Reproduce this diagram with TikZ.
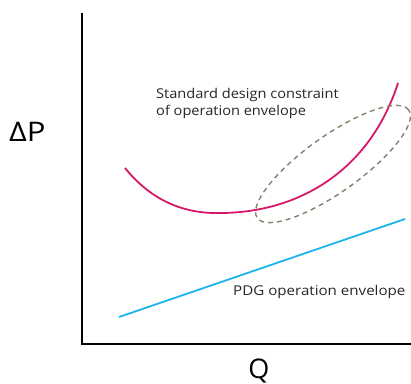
\documentclass[tikz,border=0pt]{standalone}
\usepackage{fontspec}
\setmainfont{Open Sans}
\definecolor{curvered}{HTML}{D6186A}
\definecolor{lineblue}{HTML}{1CB4EC}
\definecolor{envgrey}{HTML}{8A7E6C}
\begin{document}
\begin{tikzpicture}[x=1pt,y=-1pt,
  axis/.style={line width=2pt,black},
  label/.style={align=left,anchor=north west,inner sep=0pt,text=black!85},
  big/.style={font=\fontsize{27}{32}\selectfont,inner sep=0pt}]
\useasboundingbox (0,0) rectangle (411,383);
\coordinate (top) at (82,13);
\coordinate (origin) at (82,344);
\coordinate (right) at (411,344);
\draw[axis] (top) -- (origin) -- (right);
\draw[curvered,line width=1.8pt] (125,168) .. controls (155,205) and (190,214) .. (222,213) .. controls (300,212) and (370,170) .. (398,83);
\draw[lineblue,line width=1.8pt] (119,317) -- (405,219);
\draw[envgrey,line width=1.4pt,dash pattern=on 5pt off 4pt,rotate around={35.5:(333,164)}] (333,164) ellipse (93pt and 28pt);
\node[label,font=\fontsize{13.5}{17}\selectfont] (std) at (156,88) {\scalebox{1.08}[1]{Standard design constraint}\\\scalebox{1.08}[1]{of operation envelope}};
\node[label,font=\fontsize{13.5}{16}\selectfont] (pdg) at (233,285) {\scalebox{1.12}[1]{PDG operation envelope}};
\node[big,anchor=west] (dp) at (9,132) {\scalebox{1.15}[1]{ΔP}};
\node[big,anchor=base] (q) at (259,378) {Q};
\end{tikzpicture}
\end{document}
